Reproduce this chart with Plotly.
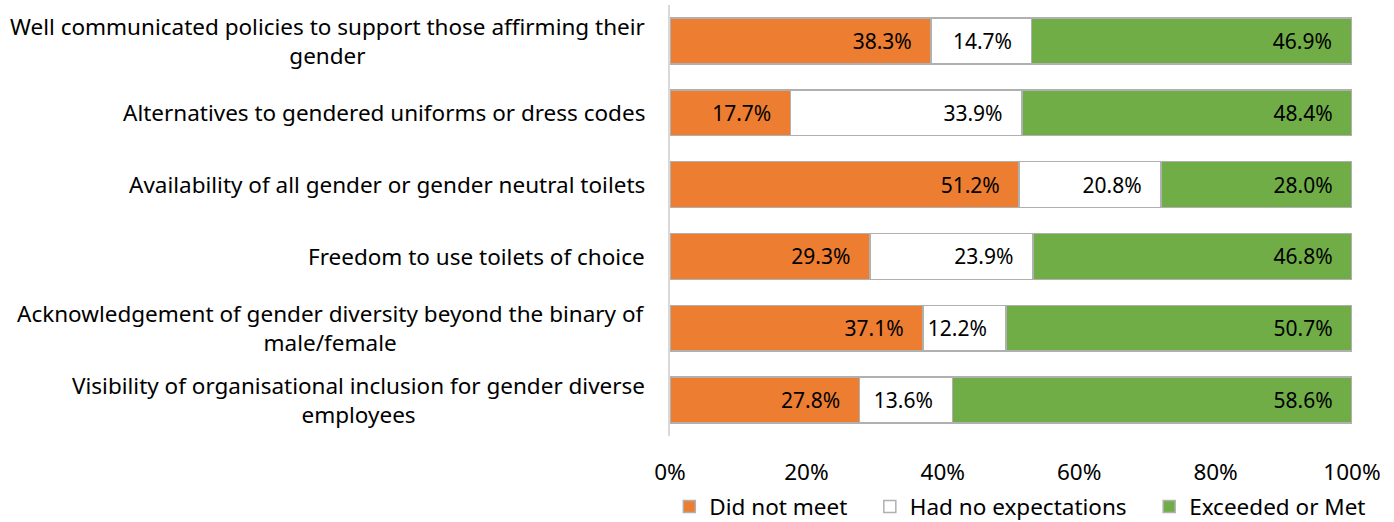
import plotly.graph_objects as go

categories = [
    "Well communicated policies to support those affirming their<br>gender",
    "Alternatives to gendered uniforms or dress codes",
    "Availability of all gender or gender neutral toilets",
    "Freedom to use toilets of choice",
    "Acknowledgement of gender diversity beyond the binary of<br>male/female",
    "Visibility of organisational inclusion for gender diverse<br>employees",
]
did_not_meet = [38.3, 17.7, 51.2, 29.3, 37.1, 27.8]
no_expectations = [14.7, 33.9, 20.8, 23.9, 12.2, 13.6]
exceeded_or_met = [46.9, 48.4, 28.0, 46.8, 50.7, 58.6]
x_ticks = [0, 20, 40, 60, 80, 100]
x_tick_labels = ["0%", "20%", "40%", "60%", "80%", "100%"]

FONT = "Noto Sans"
BORDER = "#b0b0b0"
PAD = "\u00a0\u00a0\u00a0"          # right padding after each value label
GAP = "\u00a0" * 3                  # spacing between legend entries

series = [
    ("Did not meet", did_not_meet, "#ED7D31"),
    ("Had no expectations", no_expectations, "#FFFFFF"),
    ("Exceeded or Met", exceeded_or_met, "#70AD47"),
]

ypos = list(range(len(categories)))

fig = go.Figure()
for k, (name, vals, color) in enumerate(series):
    fig.add_trace(go.Bar(
        name=name + (GAP if k < len(series) - 1 else ""),
        y=ypos,
        x=vals,
        orientation="h",
        marker=dict(color=color, line=dict(color=BORDER, width=1.5)),
        text=[f"{v:.1f}%{PAD}" for v in vals],
        textposition="inside",
        insidetextanchor="end",
        textfont=dict(family=FONT, size=21, color="#000000"),
        textangle=0,
        hoverinfo="skip",
    ))

# category labels, lines centred within each label block
for i, cat in enumerate(categories):
    fig.add_annotation(
        x=-0.033, xref="paper", y=i, yref="y",
        text=cat, showarrow=False,
        xanchor="right", yanchor="middle", align="center",
        font=dict(family=FONT, size=22.5, color="#000000"),
    )

fig.update_layout(
    barmode="stack",
    bargap=0.36,
    width=1394,
    height=522,
    margin=dict(l=670, r=42, t=5, b=86, autoexpand=False),
    paper_bgcolor="#FFFFFF",
    plot_bgcolor="#FFFFFF",
    font=dict(family=FONT, size=22.5, color="#000000"),
    showlegend=True,
    legend=dict(
        orientation="h",
        xref="paper", x=-0.001, xanchor="left",
        yref="paper", y=-0.1647, yanchor="middle",
        indentation=0,
        font=dict(family=FONT, size=22.5, color="#000000"),
        traceorder="normal",
        itemwidth=30,
    ),
    xaxis=dict(
        range=[0, 100],
        tickvals=x_ticks,
        ticktext=x_tick_labels,
        showgrid=False,
        zeroline=False,
        showline=False,
        ticks="outside",
        ticklen=16,
        tickcolor="rgba(0,0,0,0)",
        tickfont=dict(family=FONT, size=22.5, color="#000000"),
    ),
    yaxis=dict(
        range=[5.5, -0.5],
        tickvals=ypos,
        showticklabels=False,
        showgrid=False,
        zeroline=False,
        showline=True,
        linecolor="#d9d9d9",
        linewidth=1.5,
        ticks="",
    ),
)

fig.write_html("out.html")
